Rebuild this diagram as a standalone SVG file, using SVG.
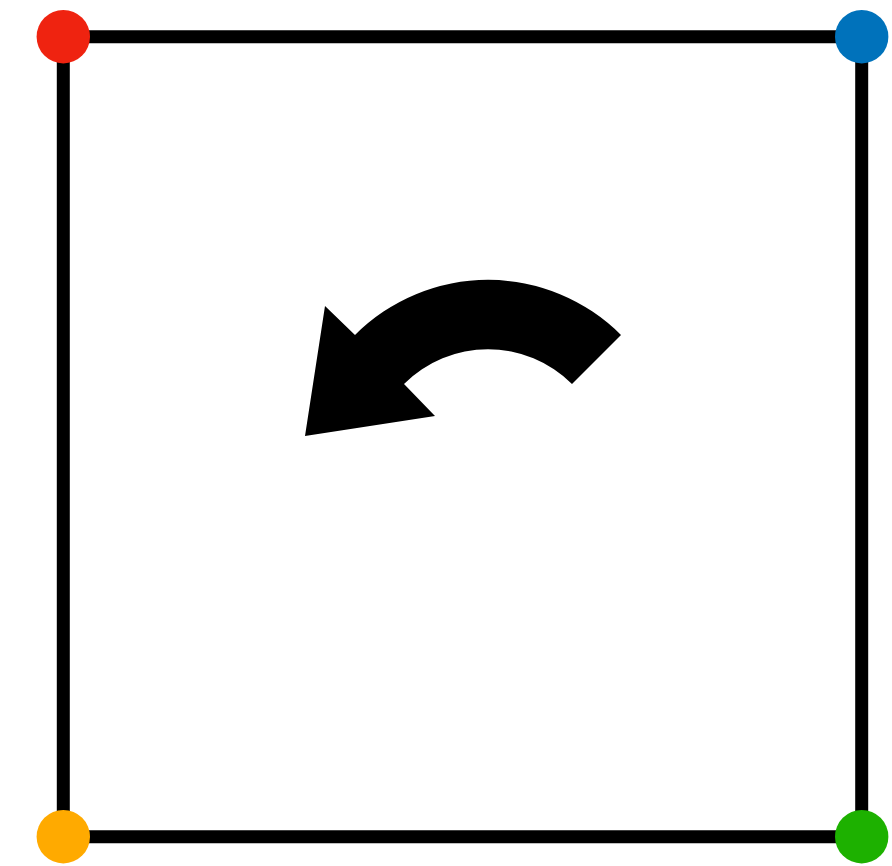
<svg xmlns="http://www.w3.org/2000/svg" width="892" height="866" viewBox="0 0 892 866">
<style>
.edge{stroke:#000;stroke-width:13;fill:none}
.node{stroke:none}
</style>
<rect width="892" height="866" fill="#fff"/>
<g id="connectors">
<line class="edge" x1="63.3" y1="36.7" x2="861.7" y2="36.7"/>
<line class="edge" x1="861.7" y1="36.7" x2="861.7" y2="836.7"/>
<line class="edge" x1="861.7" y1="836.7" x2="63.3" y2="836.7"/>
<line class="edge" x1="63.3" y1="836.7" x2="63.3" y2="36.7"/>
</g>
<g id="rotation-arrow">
<path d="M 621,335 A 188 188 0 0 0 355,335 L 325,306 L 305,436 L 435,416 L 404,384 A 119 119 0 0 1 572,384 Z" fill="#000"/>
</g>
<g id="node-top-left"><circle class="node" cx="63.3" cy="36.7" r="26.7" fill="#EF2310"/></g>
<g id="node-top-right"><circle class="node" cx="861.7" cy="36.7" r="26.7" fill="#0072BB"/></g>
<g id="node-bottom-left"><circle class="node" cx="63.3" cy="836.7" r="26.7" fill="#FFAA00"/></g>
<g id="node-bottom-right"><circle class="node" cx="861.7" cy="836.7" r="26.7" fill="#1DB100"/></g>
</svg>
